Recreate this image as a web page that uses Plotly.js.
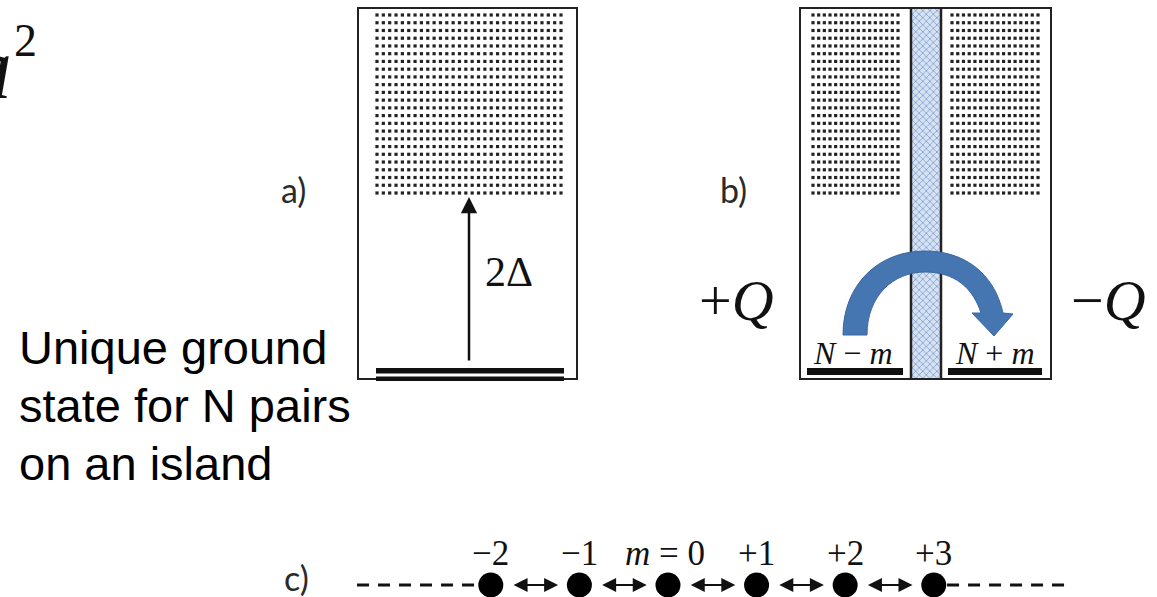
<!DOCTYPE html>
<html>
<head>
<meta charset="utf-8">
<script src="https://cdn.plot.ly/plotly-3.0.1.min.js"></script>
<style>html,body{margin:0;padding:0;background:#fff;}#plot{width:1157px;height:597px;}</style>
</head>
<body>
<div id="plot"></div>
<script>
// ---- data ----
const chainStates = [-2, -1, 0, 1, 2, 3];
const chainLabels = ['\u22122', '\u22121', '<i>m</i> = 0', '+1', '+2', '+3'];
const panelLabels = ['a)', 'b)', 'c)'];
const sideText = ['Unique ground', 'state for N pairs', 'on an island'];
const islandLevels = ['<i>N</i> \u2212 <i>m</i>', '<i>N</i> + <i>m</i>'];
const charges = ['+<i>Q</i>', '\u2212<i>Q</i>'];
const gapLabel = '2\u0394';

const serif = 'Liberation Serif, Times New Roman, serif';
const sans = 'Liberation Sans, Arial, sans-serif';
const labelFont = 'Lato, Open Sans, sans-serif';

// dot grids (continuum of states)
function grid(x0, x1, nx, y0, y1, ny) {
  const xs = [], ys = [];
  for (let j = 0; j < ny; j++) for (let i = 0; i < nx; i++) {
    xs.push(x0 + (x1 - x0) * i / (nx - 1));
    ys.push(y0 + (y1 - y0) * j / (ny - 1));
  }
  return {xs, ys};
}
const gA = grid(377, 561, 30, 15, 193, 24);
const gBL = grid(813, 898, 16, 15, 193, 24);
const gBR = grid(952, 1038, 16, 15, 193, 24);
const dotMarker = {symbol: 'square', size: 3.2, color: '#222'};

const traces = [
  {x: gA.xs, y: gA.ys, mode: 'markers', marker: dotMarker, xaxis: 'x', yaxis: 'y', hoverinfo: 'skip'},
  {x: gBL.xs, y: gBL.ys, mode: 'markers', marker: dotMarker, xaxis: 'x', yaxis: 'y', hoverinfo: 'skip'},
  {x: gBR.xs, y: gBR.ys, mode: 'markers', marker: dotMarker, xaxis: 'x', yaxis: 'y', hoverinfo: 'skip'},
  // tunnel barrier (hatched)
  {x: [911, 941, 941, 911, 911], y: [8, 8, 379, 379, 8], mode: 'lines', fill: 'toself',
   line: {width: 0}, fillcolor: '#cfdcee',
   fillpattern: {shape: 'x', bgcolor: '#d6e2f2', fgcolor: '#7f9fd0', size: 5, solidity: 0.3},
   xaxis: 'x', yaxis: 'y', hoverinfo: 'skip'},
  // chain dashed ends
  {x: [-3.51, -2.15], y: [585, 585], mode: 'lines', line: {color: '#111', width: 3, dash: '12px,9px'}, xaxis: 'x2', yaxis: 'y', hoverinfo: 'skip'},
  {x: [3.15, 4.49], y: [585, 585], mode: 'lines', line: {color: '#111', width: 3, dash: '12px,9px'}, xaxis: 'x2', yaxis: 'y', hoverinfo: 'skip'},
  // chain states
  {x: chainStates, y: chainStates.map(() => 585), mode: 'markers',
   marker: {size: 25, color: '#000'}, xaxis: 'x2', yaxis: 'y', hoverinfo: 'skip'}
];

const shapes = [
  // box a
  {type: 'rect', xref: 'x', yref: 'y', x0: 358, x1: 577, y0: 8, y1: 379, line: {color: '#222', width: 2}},
  {type: 'rect', xref: 'x', yref: 'y', x0: 376, x1: 564, y0: 368, y1: 373.5, fillcolor: '#111', line: {width: 0}},
  {type: 'rect', xref: 'x', yref: 'y', x0: 376, x1: 564, y0: 376.5, y1: 381, fillcolor: '#111', line: {width: 0}},
  // box b
  {type: 'rect', xref: 'x', yref: 'y', x0: 800, x1: 1051, y0: 8, y1: 379, line: {color: '#222', width: 2}},
  {type: 'line', xref: 'x', yref: 'y', x0: 911, x1: 911, y0: 8, y1: 379, line: {color: '#222', width: 2.5}},
  {type: 'line', xref: 'x', yref: 'y', x0: 941, x1: 941, y0: 8, y1: 379, line: {color: '#222', width: 2.5}},
  {type: 'rect', xref: 'x', yref: 'y', x0: 807, x1: 903, y0: 368, y1: 375, fillcolor: '#111', line: {width: 0}},
  {type: 'rect', xref: 'x', yref: 'y', x0: 948, x1: 1042, y0: 368, y1: 375, fillcolor: '#111', line: {width: 0}},
  // curved tunnelling arrow
  {type: 'path', xref: 'x', yref: 'y',
   path: 'M 843 335 C 843 285, 878 251, 925 251 C 963 251, 994 272, 1003 313 L 1013 314 L 994 336 L 972 313 L 981 313 C 973 288, 955 272, 925 272 C 893 272, 867 296, 867 335 Z',
   fillcolor: '#4676b2', line: {color: '#3b679e', width: 1}}
];

const ann = [];
function txt(x, y, text, size, family, opts) {
  ann.push(Object.assign({x, y, xref: 'x', yref: 'y', text, showarrow: false,
    font: {size, family, color: '#111'}, xanchor: 'center', yanchor: 'middle'}, opts || {}));
}
// top-left cut-off a^2
txt(0, 68, '<i>a</i>', 88, serif, {xshift: -10});
txt(25, 40, '2', 46, serif);
// panel labels
txt(293, 189, panelLabels[0], 34, labelFont, {font: {size: 34, family: labelFont, color: '#2a2a2a'}});
txt(733, 189, panelLabels[1], 34, labelFont, {font: {size: 34, family: labelFont, color: '#2a2a2a'}});
txt(296, 577, panelLabels[2], 34, labelFont, {font: {size: 34, family: labelFont, color: '#2a2a2a'}});
// side text
sideText.forEach((t, i) => txt(17, 347 + 58 * i, t, 47, sans, {xanchor: 'left', font: {size: 47, family: sans, color: '#000'}}));
// gap label
txt(509, 272, gapLabel, 42, serif);
// island levels
txt(853, 353, islandLevels[0], 32, serif);
txt(995, 353, islandLevels[1], 32, serif);
// charges
txt(736, 300, charges[0], 58, serif);
txt(1108, 300, charges[1], 58, serif);
// gap arrow
ann.push({x: 469, y: 197, ax: 469, ay: 362, xref: 'x', yref: 'y', axref: 'x', ayref: 'y', text: '',
  showarrow: true, arrowhead: 2, arrowsize: 1.3, arrowwidth: 2.5, arrowcolor: '#111'});
// chain labels
chainStates.forEach((m, i) => ann.push({x: m, y: 553, xref: 'x2', yref: 'y', text: chainLabels[i],
  showarrow: false, font: {size: 35, family: serif, color: '#111'}, xanchor: 'center', yanchor: 'middle',
  xshift: m === 0 ? -3 : 0}));
// double arrows between neighbouring states
chainStates.slice(0, -1).forEach(m => ann.push({x: m + 0.76, y: 585, ax: m + 0.24, ay: 585,
  xref: 'x2', yref: 'y', axref: 'x2', ayref: 'y', text: '', showarrow: true,
  arrowhead: 2, startarrowhead: 2, arrowside: 'end+start', arrowsize: 1.4, startarrowsize: 1.4,
  arrowwidth: 2, arrowcolor: '#111'}));

const layout = {
  width: 1157, height: 597,
  margin: {l: 0, r: 0, t: 0, b: 0},
  paper_bgcolor: '#fff', plot_bgcolor: '#fff',
  showlegend: false,
  xaxis: {range: [0, 1157], visible: false, fixedrange: true},
  xaxis2: {range: [-7.54, 5.52], visible: false, overlaying: 'x', fixedrange: true},
  yaxis: {range: [597, 0], visible: false, fixedrange: true},
  shapes, annotations: ann
};
Plotly.newPlot('plot', traces, layout, {staticPlot: true, displayModeBar: false});
</script>
</body>
</html>
